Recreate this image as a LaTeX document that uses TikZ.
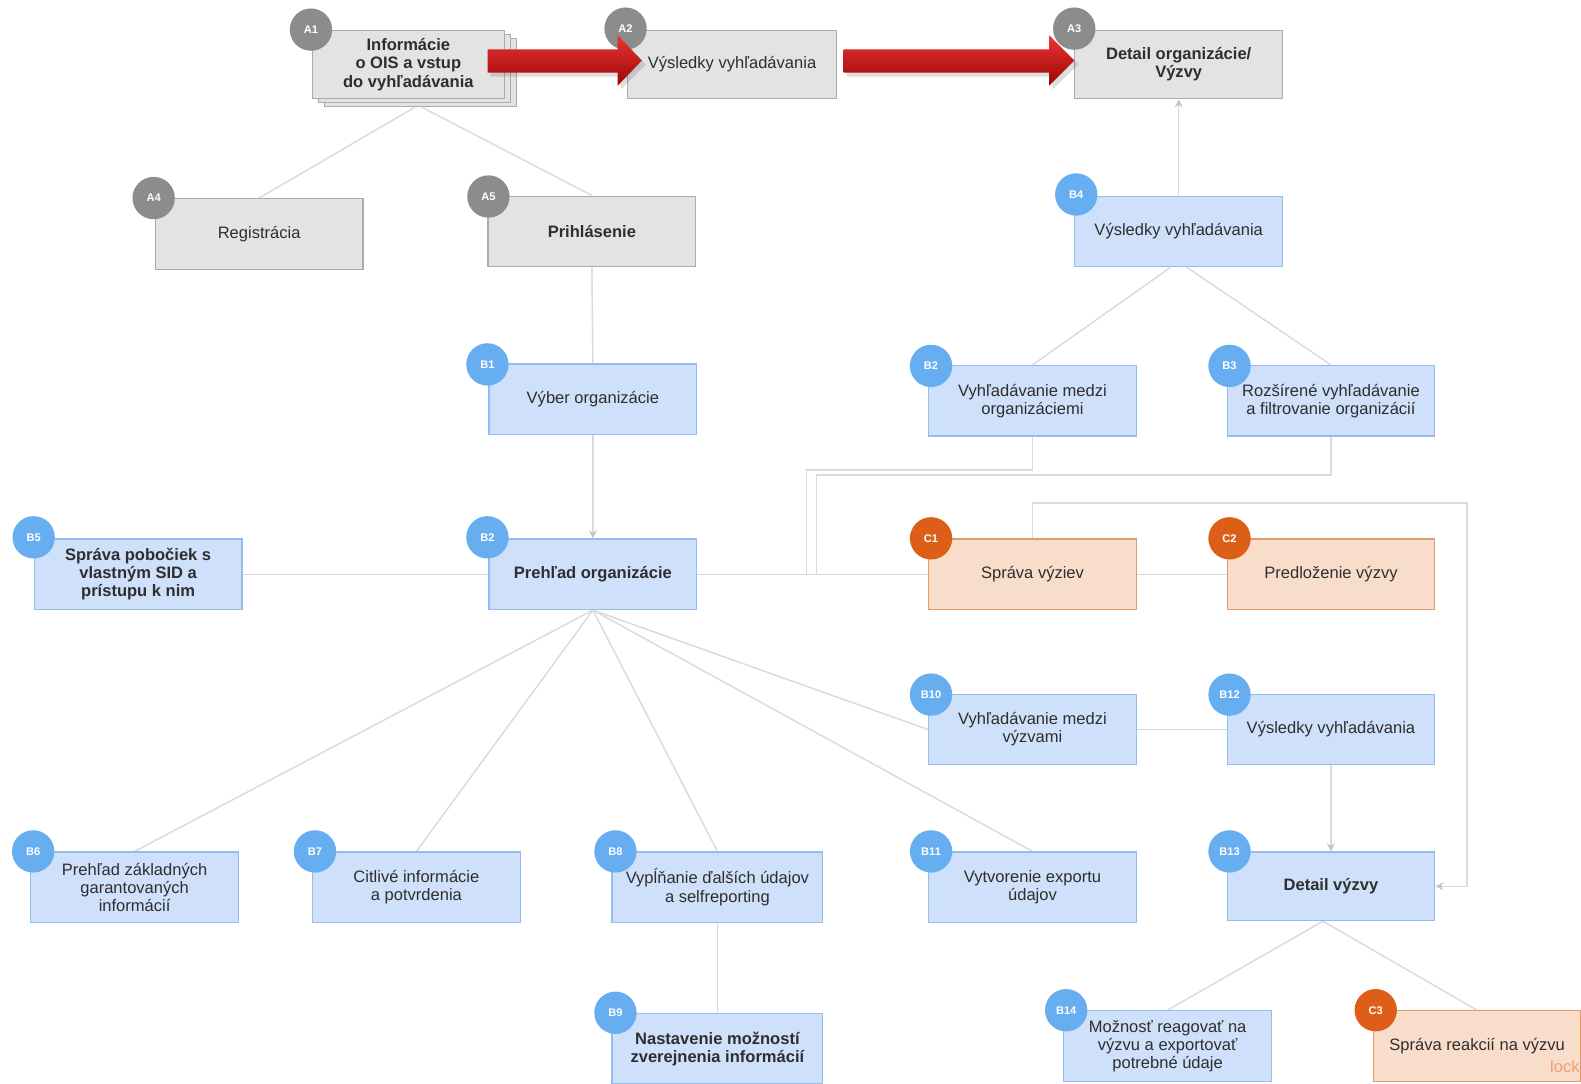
\documentclass[tikz,border=0pt]{standalone}
\usepackage{fontspec}
\setmainfont{Liberation Sans}
\usetikzlibrary{backgrounds,calc,arrows.meta}

\definecolor{gfill}{HTML}{E3E3E3}
\definecolor{gline}{HTML}{ABABAB}
\definecolor{gbadge}{HTML}{8C8C8C}
\definecolor{bfill}{HTML}{CFE0FB}
\definecolor{bline}{HTML}{94BDEE}
\definecolor{bbadge}{HTML}{66AEF0}
\definecolor{ofill}{HTML}{F9DDCB}
\definecolor{oline}{HTML}{E59A6A}
\definecolor{obadge}{HTML}{DD5F17}
\definecolor{connc}{HTML}{DADADA}
\definecolor{tipc}{HTML}{C4C4C4}
\definecolor{txt}{HTML}{2E2E2E}
\definecolor{redtop}{HTML}{EC3434}
\definecolor{redmid}{HTML}{CC1414}
\definecolor{redbot}{HTML}{9A0606}
\definecolor{lockc}{HTML}{F0A070}

\tikzset{
  box/.style={rectangle, draw, line width=0.6pt, minimum width=103pt, minimum height=35pt,
    inner sep=1pt, align=center, text=txt, font=\fontsize{8.2}{9}\selectfont},
  gbox/.style={box, fill=gfill, draw=gline},
  bbox/.style={box, fill=bfill, draw=bline},
  obox/.style={box, fill=ofill, draw=oline},
  boldtxt/.style={font=\fontsize{8.2}{9}\selectfont\bfseries},
  badge/.style={circle, minimum size=21pt, inner sep=0pt, text=white,
    font=\fontsize{5.5}{6}\selectfont\bfseries},
  gbadgestyle/.style={badge, fill=gbadge},
  bbadgestyle/.style={badge, fill=bbadge},
  obadgestyle/.style={badge, fill=obadge},
  conn/.style={draw=connc, line width=0.7pt},
  arr/.style={conn, -{Stealth[length=4pt,width=4pt,color=tipc]}},
}

\begin{document}
\begin{tikzpicture}[x=0.5pt,y=-0.5pt]
\useasboundingbox (0,0) rectangle (1568,1075);

% ---- A row ----
\node[gbox, minimum width=95pt, minimum height=34pt] (a1l2) at (417,72) {};
\node[gbox, minimum width=95pt, minimum height=34pt] (a1l1) at (411,68) {};
\node[gbox, boldtxt, minimum width=95pt, minimum height=34pt] (a1) at (405,64) {Informácie\\o OIS a vstup\\do vyhľadávania};
\node[gbox, minimum width=104pt, minimum height=34pt] (a2) at (726,64) {Výsledky vyhľadávania};
\node[gbox, boldtxt, minimum height=34pt] (a3) at (1169,64) {Detail organizácie/\\Výzvy};
\node[gbox] (a4) at (257,232) {Registrácia};
\node[gbox, boldtxt] (a5) at (587,229.5) {Prihlásenie};

% ---- B / C boxes ----
\node[bbox] (b4) at (1169,229.5) {Výsledky vyhľadávania};
\node[bbox] (b1) at (588,396) {Výber organizácie};
\node[bbox] (b2) at (1024,397.5) {Vyhľadávanie medzi\\organizáciemi};
\node[bbox] (b3) at (1320,397.5) {Rozšírené vyhľadávanie\\a filtrovanie organizácií};
\node[bbox, boldtxt] (b5) at (137,569.5) {Správa pobočiek s\\vlastným SID a\\prístupu k nim};
\node[bbox, boldtxt] (b2o) at (588,569.5) {Prehľad organizácie};
\node[obox] (c1) at (1024,569.5) {Správa výziev};
\node[obox] (c2) at (1320,569.5) {Predloženie výzvy};
\node[bbox] (b10) at (1024,723.5) {Vyhľadávanie medzi\\výzvami};
\node[bbox] (b12) at (1320,723.5) {Výsledky vyhľadávania};
\node[bbox] (b6) at (133.5,880) {Prehľad základných\\garantovaných\\informácií};
\node[bbox] (b7) at (413,880) {Citlivé informácie\\a potvrdenia};
\node[bbox, minimum width=104.5pt] (b8) at (711.5,880) {Vypĺňanie ďalších údajov\\a selfreporting};
\node[bbox] (b11) at (1024,880) {Vytvorenie exportu\\údajov};
\node[bbox, boldtxt, minimum height=34pt] (b13) at (1320,879) {Detail výzvy};
\node[bbox, boldtxt, minimum width=104.5pt] (b9) at (711.5,1040) {Nastavenie možností\\zverejnenia informácií};
\node[bbox] (b14) at (1158,1037.5) {Možnosť reagovať na\\výzvu a exportovať\\potrebné údaje};
\node[obox] (c3) at (1465,1037.5) {Správa reakcií na výzvu};
\node[anchor=west, inner sep=0pt, text=lockc, font=\fontsize{8.2}{9}\selectfont] (lock) at (1537,1058) {lock};

% ---- connectors ----
\begin{pgfonlayer}{background}
\fill[white] (0,0) rectangle (1568,1075);
\coordinate (j1) at (800,570);
\coordinate (j2) at (810,570);
\coordinate (loopc) at (1455,879);
\draw[conn] ($(a1l2.south)+(-6,0)$) -- (a4.north);
\draw[conn] ($(a1l2.south)+(2,0)$) -- (a5.north);
\draw[conn] (a5.south) -- (b1.north);
\draw[arr] (b1.south) -- (b2o.north);
\draw[arr] (b4.north) -- (a3.south);
\draw[conn] ($(b4.south)+(-8,0)$) -- (b2.north);
\draw[conn] ($(b4.south)+(8,0)$) -- (b3.north);
\draw[conn] (b5.east) -- (b2o.west);
\draw[conn] (b2o.east) -- (c1.west);
\draw[conn] (c1.east) -- (c2.west);
\draw[conn] (b2.south) -- ++(0,33) -| (j1);
\draw[conn] (b3.south) -- ++(0,38) -| (j2);
\draw[arr] (c1.north) -- ++(0,-35) -| (loopc) -- (b13.east);
\draw[conn] (b2o.south) -- (b6.north);
\draw[conn] (b2o.south) -- (b7.north);
\draw[conn] (b2o.south) -- (b8.north);
\draw[conn] (b2o.south) -- (b10.west);
\draw[conn] (b2o.south) -- (b11.north);
\draw[conn] (b10.east) -- (b12.west);
\draw[arr] (b12.south) -- (b13.north);
\draw[conn] (b8.south) -- (b9.north);
\draw[conn] ($(b13.south)+(-8,0)$) -- (b14.north);
\draw[conn] ($(b13.south)+(-8,0)$) -- (c3.north);
\end{pgfonlayer}

% ---- badges ----
\node[gbadgestyle] (ba1) at ($(a1.north west)+(-1,0)$) {A1};
\node[gbadgestyle] (ba2) at ($(a2.north west)+(-1,-1)$) {A2};
\node[gbadgestyle] (ba3) at ($(a3.north west)+(0,-1)$) {A3};
\node[gbadgestyle] (ba4) at ($(a4.north west)+(-1,0)$) {A4};
\node[gbadgestyle] (ba5) at ($(a5.north west)+(1,1)$) {A5};
\node[bbadgestyle] (bb4) at ($(b4.north west)+(2,-1)$) {B4};
\node[bbadgestyle] (bb1) at ($(b1.north west)+(-1,1)$) {B1};
\node[bbadgestyle] (bb2) at ($(b2.north west)+(3,1)$) {B2};
\node[bbadgestyle] (bb3) at ($(b3.north west)+(3,1)$) {B3};
\node[bbadgestyle] (bb5) at ($(b5.north west)+(0,-1)$) {B5};
\node[bbadgestyle] (bb2o) at ($(b2o.north west)+(-1,-1)$) {B2};
\node[obadgestyle] (bc1) at ($(c1.north west)+(3,0)$) {C1};
\node[obadgestyle] (bc2) at ($(c2.north west)+(3,0)$) {C2};
\node[bbadgestyle] (bb10) at ($(b10.north west)+(3,1)$) {B10};
\node[bbadgestyle] (bb12) at ($(b12.north west)+(3,1)$) {B12};
\node[bbadgestyle] (bb6) at ($(b6.north west)+(3,0)$) {B6};
\node[bbadgestyle] (bb7) at ($(b7.north west)+(3,0)$) {B7};
\node[bbadgestyle] (bb8) at ($(b8.north west)+(4,0)$) {B8};
\node[bbadgestyle] (bb11) at ($(b11.north west)+(3,0)$) {B11};
\node[bbadgestyle] (bb13) at ($(b13.north west)+(3,0)$) {B13};
\node[bbadgestyle] (bb9) at ($(b9.north west)+(4,0)$) {B9};
\node[bbadgestyle] (bb14) at ($(b14.north west)+(3,0)$) {B14};
\node[obadgestyle] (bc3) at ($(c3.north west)+(3,0)$) {C3};

% ---- red block arrows ----
\begin{scope}[shift={(a1.east)}]
  \fill[black, opacity=0.13] (-14,-11) -- (115,-11) -- (115,-25) -- (140,0) -- (115,25) -- (115,12) -- (-14,12) -- cycle;
  \shade[top color=redtop, middle color=redmid, bottom color=redbot]
    (-17,-15) -- (112,-15) -- (112,-29) -- (136,-4) -- (112,21) -- (112,8) -- (-17,8) -- cycle;
\end{scope}
\begin{scope}[shift={(a2.east)}]
  \fill[black, opacity=0.13] (9,-11) -- (213,-11) -- (213,-25) -- (239,0) -- (213,25) -- (213,12) -- (9,12) -- cycle;
  \shade[top color=redtop, middle color=redmid, bottom color=redbot]
    (6,-15) -- (210,-15) -- (210,-29) -- (235,-4) -- (210,21) -- (210,8) -- (6,8) -- cycle;
\end{scope}
\end{tikzpicture}
\end{document}
